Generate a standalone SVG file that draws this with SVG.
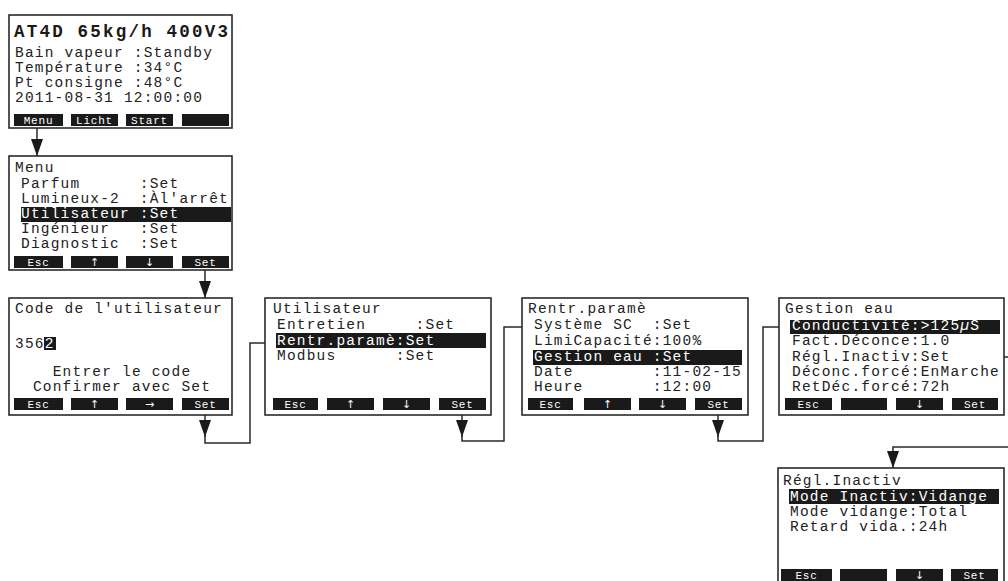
<svg xmlns="http://www.w3.org/2000/svg" width="1008" height="581" viewBox="0 0 1008 581">
<defs>
<style>
.box{fill:#fff;stroke:#2a2a2a;stroke-width:1.6}
.t{font-family:"Liberation Mono","DejaVu Sans Mono",monospace;font-size:14.5px;letter-spacing:1.2px;fill:#222;white-space:pre}
.title{font-family:"Liberation Mono","DejaVu Sans Mono",monospace;font-size:17.5px;font-weight:bold;fill:#1a1a1a}
.btn{fill:#1a1a1a}
.bl{font-family:"Liberation Mono","DejaVu Sans Mono",monospace;font-size:11px;letter-spacing:0.8px;fill:#fff;text-anchor:middle}
.ar{font-family:"DejaVu Sans",sans-serif;font-size:11px;fill:#fff;text-anchor:middle}
.hl{fill:#1a1a1a}
.w{fill:#fff}
.c{fill:none;stroke:#2a2a2a;stroke-width:1.5}
</style>
<marker id="ah" markerUnits="userSpaceOnUse" markerWidth="17" markerHeight="12" viewBox="0 0 17 12" refX="17" refY="6" orient="auto">
<path d="M0,0 L17,6 L0,12 z" fill="#1a1a1a"/>
</marker>
</defs>
<rect width="1008" height="581" fill="#fff"/>

<g id="connectors">
<path class="c" d="M37,128 V156" marker-end="url(#ah)"/>
<path class="c" d="M205,270 V298" marker-end="url(#ah)"/>
<path class="c" d="M205,415 V437" marker-end="url(#ah)"/>
<path class="c" d="M205,436 V443 H250 V343 H265"/>
<path class="c" d="M462,415 V437" marker-end="url(#ah)"/>
<path class="c" d="M462,436 V441 H504 V327 H522"/>
<path class="c" d="M718,415 V437" marker-end="url(#ah)"/>
<path class="c" d="M718,436 V441 H763 V327 H779"/>
<path class="c" d="M962,357 H1015 V447 H893 V468" marker-end="url(#ah)"/>
</g>

<g id="screen-start">
<rect class="box" x="9" y="15" width="223" height="113"/>
<text class="title" x="14" y="37" textLength="214" lengthAdjust="spacing">AT4D 65kg/h 400V3</text>
<text class="t" x="15" y="57">Bain vapeur :Standby</text>
<text class="t" x="15" y="72">Température :34°C</text>
<text class="t" x="15" y="87">Pt consigne :48°C</text>
<text class="t" x="15" y="102">2011-08-31 12:00:00</text>
<rect class="btn" x="14" y="114" width="49" height="12"/>
<rect class="btn" x="71" y="114" width="47" height="12"/>
<rect class="btn" x="126" y="114" width="47" height="12"/>
<rect class="btn" x="182" y="114" width="47" height="12"/>
<text class="bl" x="38.5" y="124">Menu</text>
<text class="bl" x="94.5" y="124">Licht</text>
<text class="bl" x="149.5" y="124">Start</text>
</g>

<g id="screen-menu">
<rect class="box" x="9" y="156" width="223" height="114"/>
<text class="t" x="15" y="172">Menu</text>
<text class="t" x="21" y="188">Parfum      :Set</text>
<text class="t" x="21" y="203">Lumineux-2  :Àl'arrêt</text>
<rect class="hl" x="21" y="207" width="210" height="15"/>
<text class="t w" x="21" y="218">Utilisateur :Set</text>
<text class="t" x="21" y="233">Ingénieur   :Set</text>
<text class="t" x="21" y="248">Diagnostic  :Set</text>
<rect class="btn" x="14" y="256" width="49" height="12"/>
<rect class="btn" x="71" y="256" width="47" height="12"/>
<rect class="btn" x="126" y="256" width="47" height="12"/>
<rect class="btn" x="182" y="256" width="47" height="12"/>
<text class="bl" x="38.5" y="266">Esc</text>
<text class="ar" x="94.5" y="266">↑</text>
<text class="ar" x="149.5" y="266">↓</text>
<text class="bl" x="205.5" y="266">Set</text>
</g>

<g id="screen-code">
<rect class="box" x="9" y="298" width="223" height="117"/>
<text class="t" x="15" y="313">Code de l'utilisateur</text>
<rect class="hl" x="44" y="337" width="12" height="13"/>
<text class="t" x="15" y="348">356<tspan class="w">2</tspan></text>
<text class="t" x="122" y="376" text-anchor="middle">Entrer le code</text>
<text class="t" x="122" y="391" text-anchor="middle">Confirmer avec Set</text>
<rect class="btn" x="14" y="398" width="49" height="12"/>
<rect class="btn" x="71" y="398" width="47" height="12"/>
<rect class="btn" x="126" y="398" width="47" height="12"/>
<rect class="btn" x="182" y="398" width="47" height="12"/>
<text class="bl" x="38.5" y="408">Esc</text>
<text class="ar" x="94.5" y="408">↑</text>
<text class="ar" x="149.5" y="408">→</text>
<text class="bl" x="205.5" y="408">Set</text>
</g>

<g id="screen-utilisateur">
<rect class="box" x="265" y="298" width="226" height="117"/>
<text class="t" x="273" y="313">Utilisateur</text>
<text class="t" x="277" y="329">Entretien     :Set</text>
<rect class="hl" x="276" y="333" width="210" height="15"/>
<text class="t w" x="277" y="345">Rentr.paramè:Set</text>
<text class="t" x="277" y="360">Modbus      :Set</text>
<rect class="btn" x="273" y="398" width="45" height="12"/>
<rect class="btn" x="327" y="398" width="47" height="12"/>
<rect class="btn" x="383" y="398" width="47" height="12"/>
<rect class="btn" x="439" y="398" width="47" height="12"/>
<text class="bl" x="295.5" y="408">Esc</text>
<text class="ar" x="350.5" y="408">↑</text>
<text class="ar" x="406.5" y="408">↓</text>
<text class="bl" x="462.5" y="408">Set</text>
</g>

<g id="screen-rentr">
<rect class="box" x="522" y="298" width="226" height="117"/>
<text class="t" x="528" y="313">Rentr.paramè</text>
<text class="t" x="534" y="329">Système SC  :Set</text>
<text class="t" x="534" y="345">LimiCapacité:100%</text>
<rect class="hl" x="533" y="350" width="209" height="15"/>
<text class="t w" x="534" y="361">Gestion eau :Set</text>
<text class="t" x="534" y="376">Date        :11-02-15</text>
<text class="t" x="534" y="391">Heure       :12:00</text>
<rect class="btn" x="528" y="398" width="45" height="12"/>
<rect class="btn" x="584" y="398" width="47" height="12"/>
<rect class="btn" x="639" y="398" width="47" height="12"/>
<rect class="btn" x="695" y="398" width="47" height="12"/>
<text class="bl" x="550.5" y="408">Esc</text>
<text class="ar" x="607.5" y="408">↑</text>
<text class="ar" x="662.5" y="408">↓</text>
<text class="bl" x="718.5" y="408">Set</text>
</g>

<g id="screen-gestion">
<rect class="box" x="779" y="298" width="225" height="117"/>
<text class="t" x="785" y="313">Gestion eau</text>
<rect class="hl" x="790" y="320" width="210" height="14"/>
<text class="t w" x="792" y="330">Conductivité:&gt;125<tspan font-style="italic">µ</tspan>S</text>
<text class="t" x="792" y="345">Fact.Déconce:1.0</text>
<text class="t" x="792" y="361">Régl.Inactiv:Set</text>
<text class="t" x="792" y="376">Déconc.forcé:EnMarche</text>
<text class="t" x="792" y="391">RetDéc.forcé:72h</text>
<rect class="btn" x="785" y="398" width="47" height="12"/>
<rect class="btn" x="841" y="398" width="46" height="12"/>
<rect class="btn" x="896" y="398" width="47" height="12"/>
<rect class="btn" x="952" y="398" width="46" height="12"/>
<text class="bl" x="808.5" y="408">Esc</text>
<text class="ar" x="919.5" y="408">↓</text>
<text class="bl" x="975" y="408">Set</text>
</g>

<g id="screen-regl">
<rect class="box" x="778" y="468" width="226" height="125"/>
<text class="t" x="783" y="485">Régl.Inactiv</text>
<rect class="hl" x="789" y="489" width="210" height="15"/>
<text class="t w" x="790" y="501">Mode Inactiv:Vidange</text>
<text class="t" x="790" y="516">Mode vidange:Total</text>
<text class="t" x="790" y="531">Retard vida.:24h</text>
<rect class="btn" x="781" y="569" width="51" height="14"/>
<rect class="btn" x="840" y="569" width="47" height="14"/>
<rect class="btn" x="896" y="569" width="47" height="14"/>
<rect class="btn" x="951" y="569" width="47" height="14"/>
<text class="bl" x="806.5" y="579">Esc</text>
<text class="ar" x="919.5" y="579">↓</text>
<text class="bl" x="974.5" y="579">Set</text>
</g>
</svg>
